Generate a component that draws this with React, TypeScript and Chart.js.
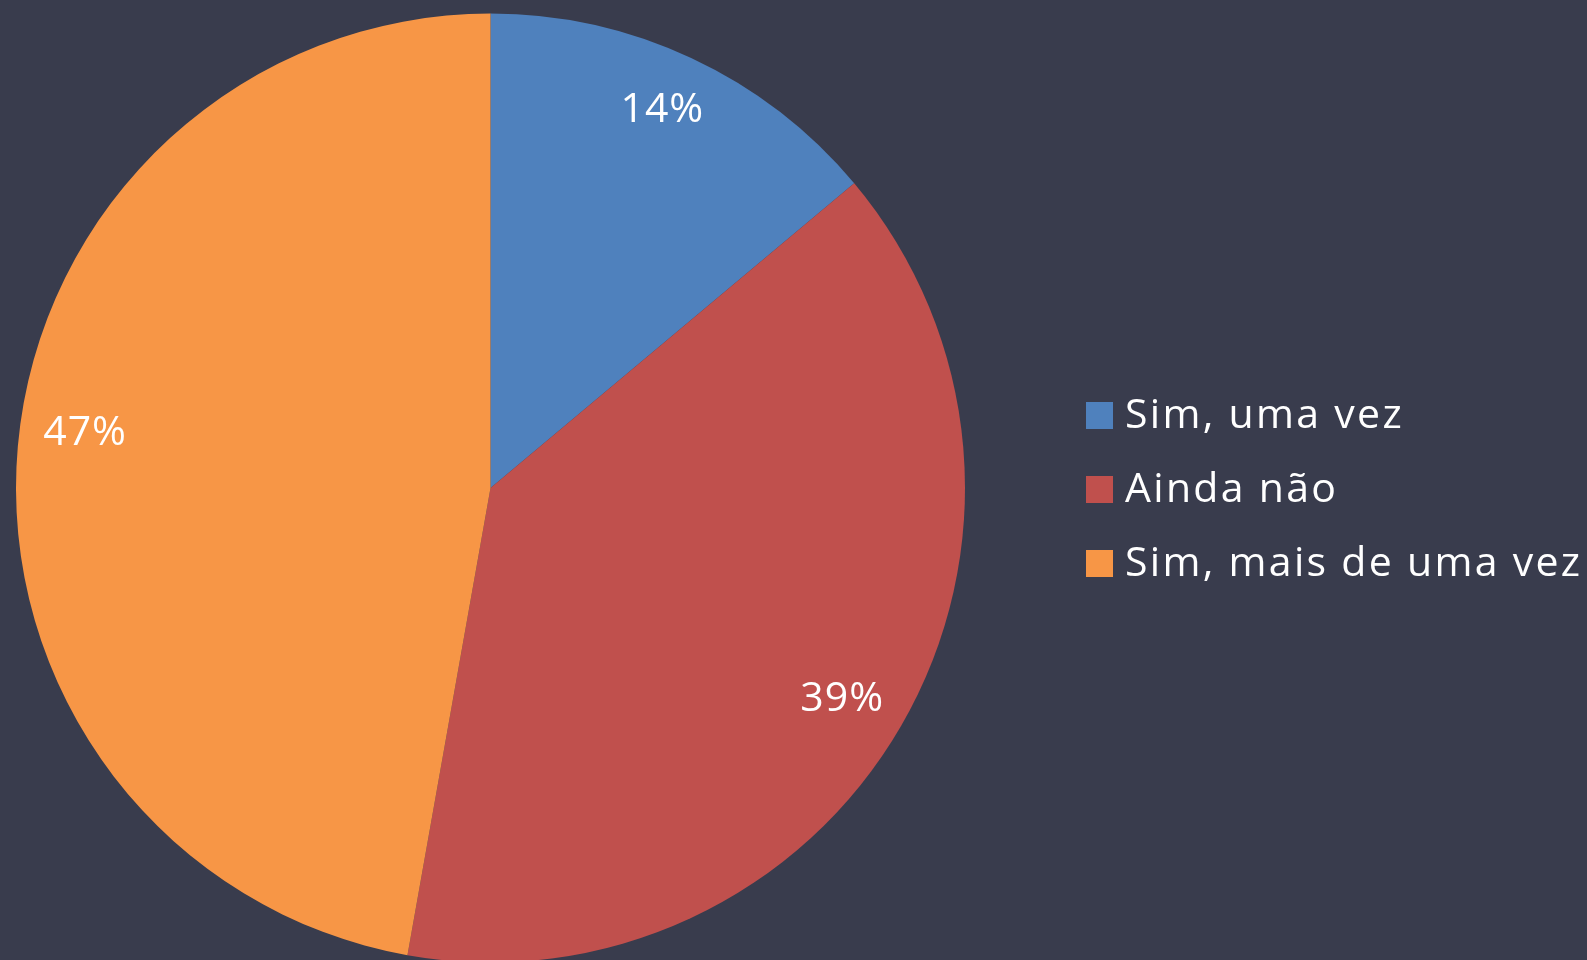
import React, { useEffect, useRef } from "react";
import { Chart, registerables } from "chart.js";

Chart.register(...registerables);

const categories = ["Sim, uma vez", "Ainda não", "Sim, mais de uma vez"];
const values = [13.9, 38.9, 47.2];
const colors = ["#4F81BD", "#C0504D", "#F79646"];

const BG = "#393C4D";
const FONT = "'Open Sans', 'Noto Sans', sans-serif";

const labelPlugin = {
  id: "sliceLabels",
  afterDatasetsDraw(chart: any) {
    const ctx = chart.ctx;
    const meta = chart.getDatasetMeta(0);
    const data: number[] = chart.data.datasets[0].data;
    const total = data.reduce((a, b) => a + b, 0);
    const angleNudge = [-0.01, 0.017, 0.045];
    const dist = [0.875, 0.865, 0.862];
    ctx.save();
    ctx.fillStyle = "#FFFFFF";
    ctx.font = `41px ${FONT}`;
    (ctx as any).letterSpacing = "1px";
    ctx.textAlign = "center";
    ctx.textBaseline = "middle";
    meta.data.forEach((arc: any, i: number) => {
      const { x, y, startAngle, endAngle, outerRadius } = arc.getProps(
        ["x", "y", "startAngle", "endAngle", "outerRadius"],
        true
      );
      const mid = (startAngle + endAngle) / 2 + angleNudge[i];
      const d = outerRadius * dist[i];
      const txt = Math.round((data[i] / total) * 100) + "%";
      ctx.fillText(txt, x + Math.cos(mid) * d, y + Math.sin(mid) * d);
    });
    ctx.restore();
  },
};

const legendPlugin = {
  id: "sideLegend",
  afterDraw(chart: any) {
    const ctx = chart.ctx;
    ctx.save();
    ctx.font = `41px ${FONT}`;
    (ctx as any).letterSpacing = "2.3px";
    ctx.textBaseline = "alphabetic";
    ctx.textAlign = "left";
    const labels: string[] = chart.data.labels;
    labels.forEach((lab, i) => {
      const top = 402 + i * 74;
      ctx.fillStyle = colors[i];
      ctx.fillRect(1086, top, 27, 27);
      ctx.fillStyle = "#FFFFFF";
      ctx.fillText(lab, 1125, top + 26);
    });
    ctx.restore();
  },
};

const bgPlugin = {
  id: "bg",
  beforeDraw(chart: any) {
    const ctx = chart.ctx;
    ctx.save();
    ctx.fillStyle = BG;
    ctx.fillRect(0, 0, chart.width, chart.height);
    ctx.restore();
  },
};

export default function App() {
  const ref = useRef<HTMLCanvasElement | null>(null);
  useEffect(() => {
    document.body.style.margin = "0";
    document.body.style.background = BG;
    const chart = new Chart(ref.current as HTMLCanvasElement, {
      type: "pie",
      data: {
        labels: categories,
        datasets: [
          {
            data: values,
            backgroundColor: colors,
            borderWidth: 0,
          },
        ],
      },
      options: {
        responsive: false,
        animation: false,
        maintainAspectRatio: false,
        layout: { padding: { top: 13.5, left: 16, right: 622, bottom: 13.5 } },
        plugins: {
          legend: { display: false },
          tooltip: { enabled: false },
        },
      },
      plugins: [bgPlugin, labelPlugin, legendPlugin],
    });
    return () => chart.destroy();
  }, []);
  return (
    <div style={{ position: "absolute", left: 0, top: 0, width: 1587, height: 976, background: BG }}>
      <canvas ref={ref} width={1587} height={976} style={{ width: 1587, height: 976, display: "block" }} />
    </div>
  );
}
